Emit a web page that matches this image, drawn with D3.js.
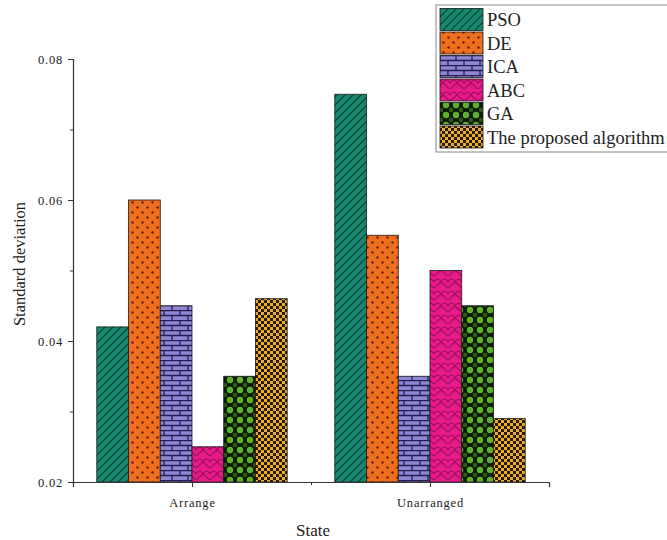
<!DOCTYPE html>
<html>
<head>
<meta charset="utf-8">
<script src="https://cdn.jsdelivr.net/npm/d3@7"></script>
<style>
  html, body { margin: 0; padding: 0; background: #fff; }
  svg { display: block; }
  text { font-family: "Liberation Serif", "Times New Roman", serif; fill: #222; }
</style>
</head>
<body>
<svg id="chart" width="667" height="540"></svg>
<script>
// Standard deviation per algorithm and state
const states = ["Arrange", "Unarranged"];
const algorithms = ["PSO", "DE", "ICA", "ABC", "GA", "The proposed algorithm"];
const arrangeValues    = [0.042, 0.060, 0.045, 0.025, 0.035, 0.046];
const unarrangedValues = [0.075, 0.055, 0.035, 0.050, 0.045, 0.029];
const yTicks = [0.02, 0.04, 0.06, 0.08];
const yMinorTicks = [0.03, 0.05, 0.07];

const seriesValues = [arrangeValues, unarrangedValues];

const svg = d3.select("#chart");
const margin = { left: 73, top: 59 };
const plotRight = 549, plotBottom = 482;

// Fill patterns, one per algorithm
const defs = svg.append("defs");
function pat(id, w, h, bg, draw) {
  const p = defs.append("pattern").attr("id", id).attr("patternUnits", "userSpaceOnUse")
    .attr("width", w).attr("height", h);
  p.append("rect").attr("width", w).attr("height", h).attr("fill", bg);
  draw(p);
}
pat("p0", 8, 8, "#168a70", p => {
  p.append("path").attr("d", "M-2,2 L2,-2 M0,8 L8,0 M6,10 L10,6")
    .attr("stroke", "#0b4a3a").attr("stroke-width", 1.4);
});
pat("p1", 10, 10, "#ee6f1e", p => {
  p.append("circle").attr("cx", 2.5).attr("cy", 2.5).attr("r", 1.2).attr("fill", "#6a1e0c");
  p.append("circle").attr("cx", 7.5).attr("cy", 7.5).attr("r", 1.2).attr("fill", "#6a1e0c");
});
pat("p2", 16, 10, "#8f86d2", p => {
  p.append("path").attr("d", "M0,0.5 H16 M0,5.5 H16 M4,0 V5 M12,5 V10")
    .attr("stroke", "#241c55").attr("stroke-width", 1.3).attr("fill", "none");
});
pat("p3", 14, 12, "#e8198a", p => {
  p.append("path").attr("d", "M0,6 Q3.5,0 7,6 Q10.5,0 14,6 M0,12 L7,6 L14,12")
    .attr("stroke", "#9a0f58").attr("stroke-width", 1.2).attr("fill", "none");
});
pat("p4", 10, 10, "#0c1a06", p => {
  [[0, 0], [10, 0], [0, 10], [10, 10]].forEach(([cx, cy]) =>
    p.append("circle").attr("cx", cx).attr("cy", cy).attr("r", 3.2).attr("fill", "#5fae2e"));
  p.append("circle").attr("cx", 5).attr("cy", 5).attr("r", 2.2).attr("fill", "#2f5a16");
});
pat("p5", 6, 6, "#e8b030", p => {
  p.append("rect").attr("x", 0).attr("y", 0).attr("width", 3).attr("height", 3).attr("fill", "#2a1a05");
  p.append("rect").attr("x", 3).attr("y", 3).attr("width", 3).attr("height", 3).attr("fill", "#2a1a05");
});

// Scales
const x = d3.scaleLinear().domain([0.5, 2.5]).range([margin.left, plotRight]);
const y = d3.scaleLinear().domain([0.02, 0.08]).range([plotBottom, margin.top]);
const groupWidth = 0.8;
const inner = d3.scaleBand().domain(algorithms).range([0, groupWidth]);

// Bars
const g = svg.append("g");
states.forEach((s, si) => {
  const center = si + 1;
  const x0 = a => x(center - groupWidth / 2 + inner(a));
  const x1 = a => x(center - groupWidth / 2 + inner(a) + inner.bandwidth());
  g.selectAll(null).data(algorithms).join("rect")
    .attr("x", x0)
    .attr("width", a => x1(a) - x0(a))
    .attr("y", (a, i) => y(seriesValues[si][i]))
    .attr("height", (a, i) => plotBottom - y(seriesValues[si][i]))
    .attr("fill", (a, i) => `url(#p${i})`)
    .attr("stroke", "#1a1a1a").attr("stroke-width", 0.8);
});

// Y axis
svg.append("g").attr("transform", `translate(${margin.left},0)`)
  .call(d3.axisLeft(y).tickValues(yTicks).tickFormat(d3.format(".2f")).tickSize(5).tickPadding(5));
svg.append("g").attr("transform", `translate(${margin.left},0)`)
  .call(d3.axisLeft(y).tickValues(yMinorTicks).tickFormat("").tickSize(3))
  .select(".domain").remove();

// X axis
svg.append("g").attr("transform", `translate(0,${plotBottom})`)
  .call(d3.axisBottom(x).tickValues([1, 2]).tickFormat(d => states[d - 1]).tickSize(5).tickPadding(11));
svg.append("g").attr("transform", `translate(0,${plotBottom})`)
  .call(d3.axisBottom(x).tickValues([1.5]).tickFormat("").tickSize(3))
  .select(".domain").remove();

svg.selectAll(".domain").attr("stroke", "#333").attr("stroke-width", 1.2);
svg.selectAll(".tick line").attr("stroke", "#333");
svg.selectAll(".tick text")
  .style("font-family", "Liberation Serif, serif").style("font-size", "12.5px")
  .style("letter-spacing", "0.8px").attr("fill", "#222");

// Axis titles
svg.append("text").attr("x", 313).attr("y", 536).attr("text-anchor", "middle")
  .style("font-size", "17px").text("State");
svg.append("text").attr("transform", `translate(25,264) rotate(-90)`)
  .attr("text-anchor", "middle").style("font-size", "16.5px").text("Standard deviation");

// Legend
const lg = svg.append("g").attr("transform", "translate(436,5)");
lg.append("rect").attr("x", 0).attr("y", 0).attr("width", 240).attr("height", 147)
  .attr("fill", "#fff").attr("stroke", "#888").attr("stroke-width", 1);
const rowH = 23.5;
algorithms.forEach((a, i) => {
  const ry = 3.5 + i * rowH;
  lg.append("rect").attr("x", 4).attr("y", ry).attr("width", 43).attr("height", 22)
    .attr("fill", `url(#p${i})`).attr("stroke", "#1a1a1a").attr("stroke-width", 0.8);
  lg.append("text").attr("x", 51).attr("y", ry + 17.5).style("font-size", "18.5px").text(a);
});
</script>
</body>
</html>
